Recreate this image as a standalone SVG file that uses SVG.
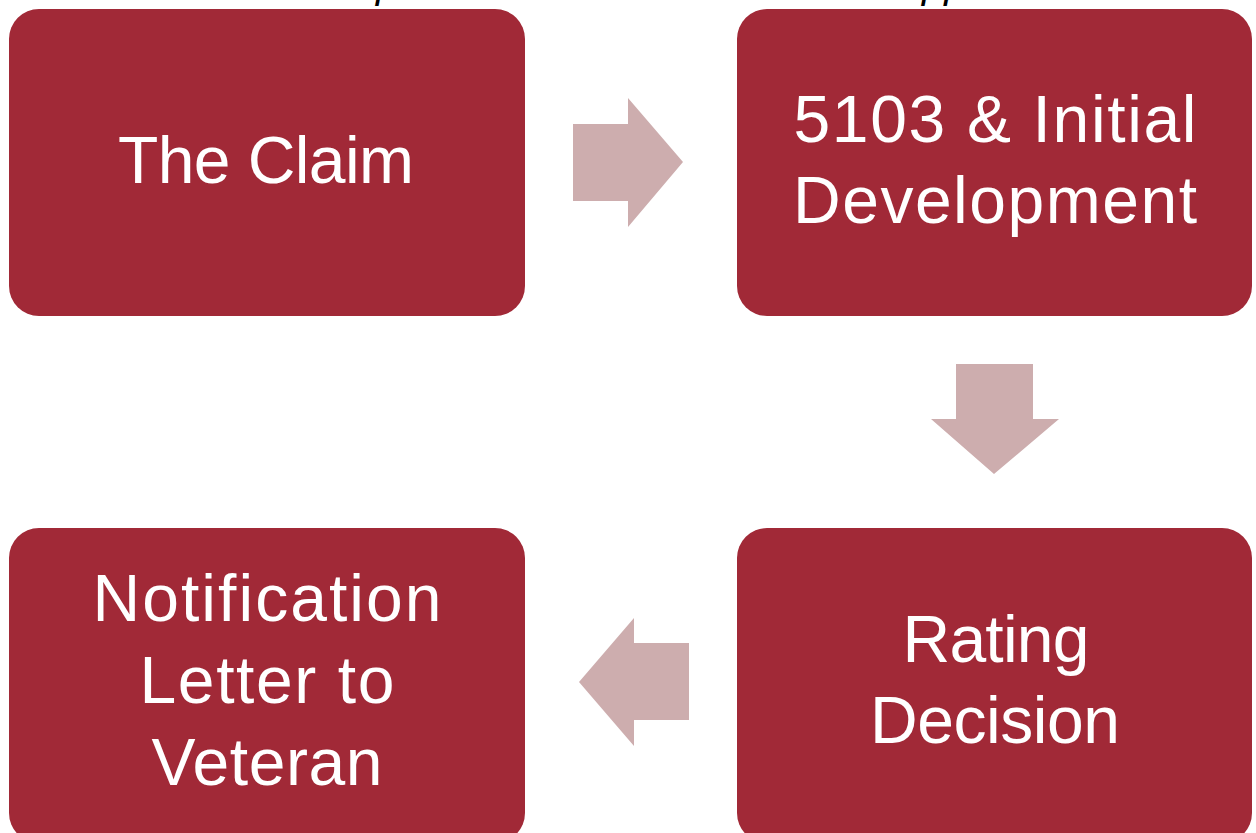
<svg xmlns="http://www.w3.org/2000/svg" width="1256" height="833" viewBox="0 0 1256 833">
  <style>
    .box { fill: #A12937; }
    .arrow { fill: #CDADAE; }
    .lbl { font-family: "Liberation Sans", Arial, sans-serif; font-size: 66px; fill: #FFFFFF; text-anchor: middle; }
    .cut { font-family: "Liberation Sans", Arial, sans-serif; font-size: 40px; font-style: italic; fill: #000000; }
  </style>
  <rect width="1256" height="833" fill="#FFFFFF"/>
  <g id="title-fragment">
    <text class="cut" x="376" y="-2">p</text>
    <text class="cut" x="922" y="-2">pp</text>
  </g>
  <g id="connectors">
    <polygon class="arrow" points="573,124 628,124 628,98 683,162 628,227 628,201 573,201"/>
    <polygon class="arrow" points="956,364 1033,364 1033,419 1059,419 994,474 931,419 956,419"/>
    <polygon class="arrow" points="689,643 634,643 634,618 579,682 634,746 634,720 689,720"/>
  </g>
  <g id="node-claim">
    <rect class="box" x="9" y="9" width="516" height="307" rx="30" ry="30"/>
    <text class="lbl" x="266" y="183" textLength="296">The Claim</text>
  </g>
  <g id="node-development">
    <rect class="box" x="737" y="9" width="515" height="307" rx="30" ry="30"/>
    <text class="lbl" x="995" y="142" textLength="403">5103 &amp; Initial</text>
    <text class="lbl" x="995" y="223" textLength="404">Development</text>
  </g>
  <g id="node-rating">
    <rect class="box" x="737" y="528" width="515" height="315" rx="30" ry="30"/>
    <text class="lbl" x="996" y="662" textLength="187">Rating</text>
    <text class="lbl" x="995" y="743" textLength="250">Decision</text>
  </g>
  <g id="node-notification">
    <rect class="box" x="9" y="528" width="516" height="315" rx="30" ry="30"/>
    <text class="lbl" x="267" y="621" textLength="349">Notification</text>
    <text class="lbl" x="267" y="703" textLength="255">Letter to</text>
    <text class="lbl" x="267" y="785" textLength="231">Veteran</text>
  </g>
</svg>
